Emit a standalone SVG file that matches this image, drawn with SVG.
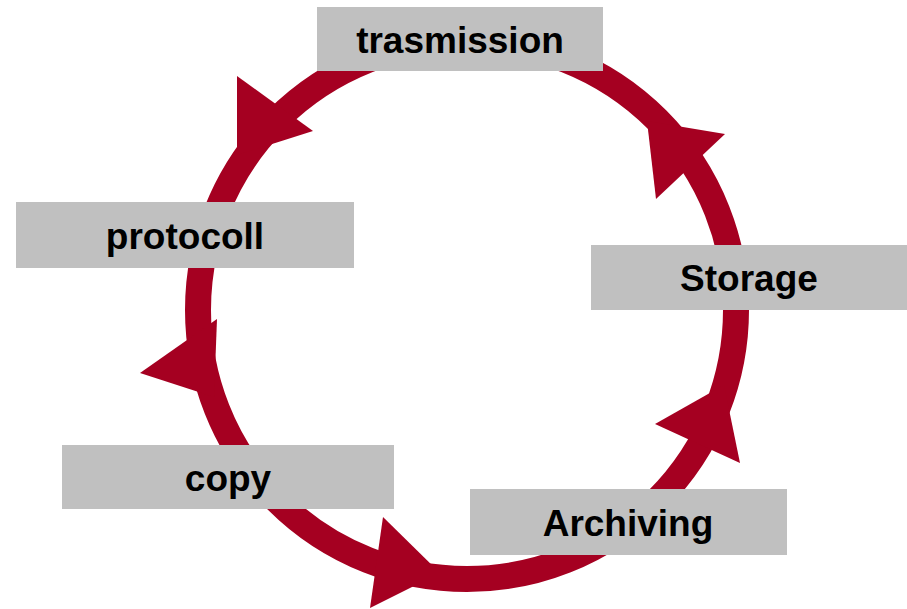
<svg xmlns="http://www.w3.org/2000/svg" width="907" height="609" viewBox="0 0 907 609">
<style>
.ring{fill:none;stroke:#A50021;stroke-width:26}
.head{fill:#A50021;stroke:none}
.box{fill:#C0C0C0;stroke:none}
.lbl{font-family:"Liberation Sans",Arial,sans-serif;font-weight:bold;font-size:37px;fill:#000;text-anchor:middle}
</style>
<rect x="0" y="0" width="907" height="609" fill="#FFFFFF"/>
<g id="connectors">
<circle class="ring" cx="467" cy="310" r="269"/>
<polygon class="head" points="237,76 313,131 237,155"/>
<polygon class="head" points="656,199 725,134 647,121"/>
<polygon class="head" points="140,373 217,319 214,397"/>
<polygon class="head" points="383,517 370,608 440,573"/>
<polygon class="head" points="655,424 740,463 724,385"/>
</g>
<g id="node-trasmission">
<rect class="box" x="317" y="7" width="286" height="64"/>
<text class="lbl" x="460" y="52.5">trasmission</text>
</g>
<g id="node-protocoll">
<rect class="box" x="16" y="202" width="338" height="66"/>
<text class="lbl" x="185" y="249">protocoll</text>
</g>
<g id="node-storage">
<rect class="box" x="591" y="245" width="316" height="65"/>
<text class="lbl" x="749" y="291">Storage</text>
</g>
<g id="node-copy">
<rect class="box" x="62" y="445" width="332" height="64"/>
<text class="lbl" x="228" y="490.5">copy</text>
</g>
<g id="node-archiving">
<rect class="box" x="470" y="489" width="317" height="66"/>
<text class="lbl" x="628" y="535.5">Archiving</text>
</g>
</svg>
